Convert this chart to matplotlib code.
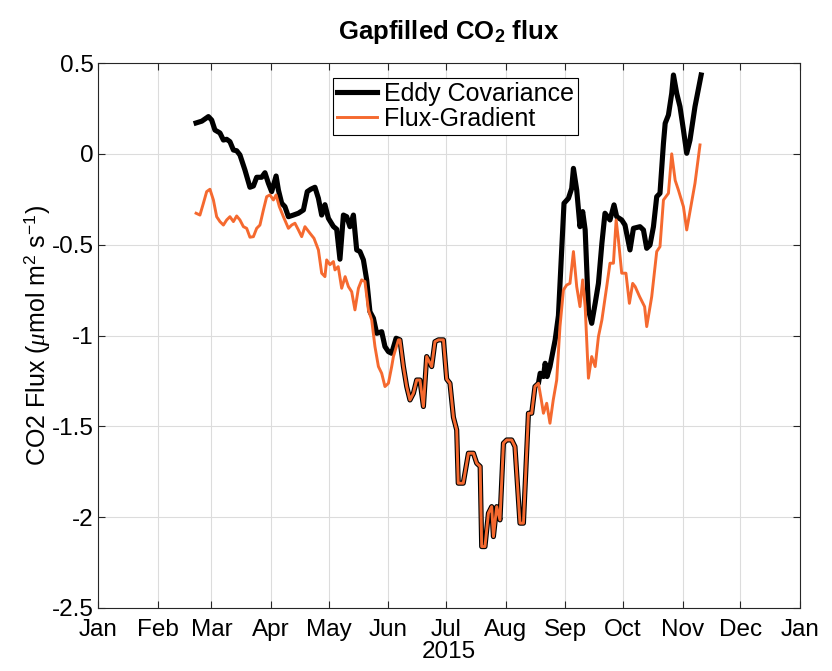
import numpy as np
import pandas as pd
import matplotlib
matplotlib.use("Agg")
import matplotlib.pyplot as plt
import matplotlib.dates as mdates

plt.rcParams['font.family'] = ['Liberation Sans', 'DejaVu Sans']
plt.rcParams['mathtext.fontset'] = 'custom'
plt.rcParams['mathtext.rm'] = 'Liberation Sans'
plt.rcParams['mathtext.it'] = 'Liberation Serif:italic'
plt.rcParams['mathtext.bf'] = 'Liberation Sans:bold'
plt.rcParams['axes.unicode_minus'] = False

# days since 1 Jan 2015, gapfilled flux (umol m-2 s-1)
ec_day = [51, 54, 57.4, 59.1, 60.8, 63.4, 65.2, 66.9, 68.6, 70.4, 72.1, 73.8, 76.4, 79.0, 80.8,
          82.5, 85.1, 86.8, 88.6, 90.3, 92.6, 93.8, 95.5, 97.2, 99.0, 101.6, 104.2, 106.8, 108.8,
          110.6, 112.8, 114.6, 116.3, 118.0, 119.8, 122.4, 124.1, 125.8, 127.6, 129.3, 131.0,
          132.8, 134.5, 136.2, 138.0, 139.7, 141.4, 143.2, 144.9, 147.5, 149.2, 151.0, 152.7,
          155.0, 157.0, 158.8, 160.5, 162.2, 164.0, 165.7, 167.4, 169.2, 170.9, 173.5, 175.2,
          177.0, 179.6, 181.3, 183.0, 184.8, 186.5, 187.3, 189.9, 192.6, 195.2, 196.9, 198.7,
          199.5, 201.2, 203.0, 204.7, 205.6, 207.3, 209.0, 210.8, 212.5, 215.1, 216.8, 219.4,
          221.2, 223.8, 225.5, 227.2, 229.0, 229.9, 231.6, 232.5, 233.5, 235.0, 237.7, 239.4,
          241.1, 242.3, 244.6, 246.3, 247.2, 248.9, 250.6, 252.0, 253.3, 255.0, 256.7, 258.5,
          260.2, 262.0, 263.6, 266.2, 268.3, 269.7, 272.3, 274.0, 276.6, 278.4, 281.8, 283.6,
          285.3, 287.0, 288.8, 290.5, 292.2, 294.0, 294.9, 296.6, 298.3, 299.2, 300.9, 302.6,
          304.4, 306.1, 307.8, 310.4, 313.6]
ec_flux = [0.17, 0.18, 0.205, 0.186, 0.131, 0.115, 0.076, 0.08, 0.067, 0.021, 0.017, -0.006,
           -0.089, -0.184, -0.177, -0.129, -0.129, -0.104, -0.162, -0.208, -0.122, -0.199, -0.272,
           -0.291, -0.346, -0.337, -0.327, -0.309, -0.208, -0.195, -0.184, -0.245, -0.337, -0.28,
           -0.355, -0.40, -0.415, -0.58, -0.337, -0.346, -0.401, -0.337, -0.529, -0.538, -0.584,
           -0.694, -0.869, -0.905, -0.988, -0.979, -1.061, -1.089, -1.098, -1.015, -1.024, -1.171,
           -1.281, -1.355, -1.318, -1.245, -1.245, -1.391, -1.116, -1.171, -1.034, -1.024, -1.024,
           -1.24, -1.263, -1.45, -1.52, -1.813, -1.813, -1.648, -1.648, -1.703, -1.721, -2.162,
           -2.162, -1.978, -1.942, -2.107, -1.942, -2.015, -1.593, -1.575, -1.575, -1.612, -2.033,
           -2.033, -1.428, -1.428, -1.281, -1.263, -1.208, -1.226, -1.153, -1.226, -1.171, -1.024,
           -0.89, -0.529, -0.272, -0.245, -0.19, -0.08, -0.199, -0.401, -0.318, -0.419, -0.859,
           -0.933, -0.823, -0.713, -0.492, -0.327, -0.364, -0.281, -0.346, -0.364, -0.392, -0.529,
           -0.41, -0.401, -0.419, -0.52, -0.502, -0.401, -0.236, -0.217, 0.058, 0.168, 0.214,
           0.333, 0.434, 0.333, 0.26, 0.131, 0.003, 0.076, 0.26, 0.434]

fg_day = [51, 53.0, 54.8, 56.5, 58.2, 60.0, 61.7, 63.4, 65.2, 66.9, 68.6, 70.4, 72.1, 73.8, 75.6,
          77.3, 79.0, 80.8, 82.5, 84.2, 86.0, 87.7, 89.4, 91.2, 92.6, 94.3, 96.4, 99.0, 100.7,
          102.4, 104.2, 105.9, 107.6, 110.2, 112.3, 114.6, 116.3, 118.0, 118.9, 120.6, 122.4,
          123.2, 124.9, 126.7, 128.5, 130.2, 131.9, 133.6, 135.4, 137.1, 138.8, 140.6, 142.3,
          144.0, 145.8, 147.5, 149.2, 151.0, 152.7, 153.6, 156.2,
          157.0, 158.8, 160.5, 162.2, 164.0, 165.7, 167.4, 169.2, 170.9, 173.5, 175.2,
          177.0, 179.6, 181.3, 183.0, 184.8, 186.5, 187.3, 189.9, 192.6, 195.2, 196.9, 198.7,
          199.5, 201.2, 203.0, 204.7, 205.6, 207.3, 209.0, 210.8, 212.5, 215.1, 216.8, 219.4,
          221.2, 223.8, 225.5, 227.2, 229.0, 230.5, 231.6, 233.3, 235.0, 236.7, 238.5, 240.2,
          242.0, 243.7, 245.4, 247.2, 248.9, 250.6, 252.0, 253.3, 255.0, 256.7, 258.5, 260.2,
          262.0, 264.5, 266.2, 268.0, 269.4, 270.6, 272.3, 274.5, 276.3, 278.0, 279.3, 281.6,
          284.2, 285.3, 287.9, 290.5, 292.2, 294.0, 296.6, 298.3, 300.1, 301.8, 304.4, 306.1,
          307.8, 310.4, 313.0]
fg_flux = [-0.327, -0.337, -0.272, -0.208, -0.195, -0.254, -0.346, -0.373, -0.392, -0.364, -0.346,
           -0.373, -0.342, -0.364, -0.401, -0.41, -0.459, -0.456, -0.41, -0.392, -0.309, -0.236,
           -0.226, -0.254, -0.226, -0.291, -0.346, -0.41, -0.392, -0.382, -0.419, -0.456, -0.401,
           -0.437, -0.465, -0.529, -0.657, -0.676, -0.584, -0.61, -0.593, -0.639, -0.621, -0.74,
           -0.676, -0.731, -0.759, -0.859, -0.74, -0.694, -0.703, -0.859, -0.914, -1.061, -1.171,
           -1.208, -1.281, -1.263, -1.171, -1.116, -1.024,
           -1.024, -1.171, -1.281, -1.355, -1.318, -1.245, -1.245, -1.391, -1.116, -1.171, -1.034,
           -1.024, -1.024, -1.24, -1.263, -1.45, -1.52, -1.813, -1.813, -1.648, -1.648, -1.703,
           -1.721, -2.162, -2.162, -1.978, -1.942, -2.107, -1.942, -2.015, -1.593, -1.575, -1.575,
           -1.612, -2.033, -2.033, -1.428, -1.428, -1.281, -1.263, -1.355, -1.428, -1.373, -1.483,
           -1.355, -1.245, -0.951, -0.749, -0.722, -0.713, -0.538, -0.731, -0.841, -0.694, -0.841,
           -1.235, -1.116, -1.171, -1.006, -0.914, -0.731, -0.602, -0.602, -0.364, -0.474, -0.657,
           -0.657, -0.823, -0.713, -0.731, -0.786, -0.841, -0.951, -0.786, -0.538, -0.511, -0.254,
           -0.217, 0.0, -0.146, -0.2, -0.291, -0.419, -0.318, -0.162, 0.049]

y_ticks = [0.5, 0, -0.5, -1, -1.5, -2, -2.5]

start = pd.Timestamp('2015-01-01')
ec_t = start + pd.to_timedelta(ec_day, unit='D')
fg_t = start + pd.to_timedelta(fg_day, unit='D')

fig = plt.figure(figsize=(8.32, 6.71), dpi=100)
ax = fig.add_axes([98 / 832, 63 / 671, 702 / 832, 545 / 671])

# black drawn a bit wider so it still shows where the two series coincide
ax.plot(ec_t, ec_flux, color='black', lw=3.7, label='Eddy Covariance', zorder=3)
ax.plot(fg_t, fg_flux, color='#F5692F', lw=2.1, label='Flux-Gradient', zorder=4)

ax.set_xlim(pd.Timestamp('2015-01-01'), pd.Timestamp('2016-01-01'))
ax.set_ylim(-2.5, 0.5)
ax.set_yticks(y_ticks)
ax.set_yticklabels([f'{v:g}' for v in y_ticks])
ax.xaxis.set_major_locator(mdates.MonthLocator())
ax.xaxis.set_major_formatter(mdates.DateFormatter('%b'))

ax.grid(True, color='#dcdcdc', lw=0.8)
ax.set_axisbelow(True)
ax.tick_params(direction='in', length=5, width=0.8, top=True, right=True,
               labelsize=17.5, colors='#262626', labelcolor='black')
ax.tick_params(axis='y', pad=3)
ax.tick_params(axis='x', pad=8)
for s in ax.spines.values():
    s.set_color('#262626')
    s.set_linewidth(0.8)

ax.set_xlabel('2015', fontsize=17.5, labelpad=0)
ax.set_ylabel(r'CO2 Flux ($\mu$mol m$^{\mathrm{2}}$ s$^{\mathrm{-1}}$)', fontsize=18, labelpad=0)
ax.set_title(r'Gapfilled CO$_{\mathbf{2}}$ flux', fontsize=18.5, fontweight='bold', pad=17)

leg = ax.legend(loc='upper left', bbox_to_anchor=(235 / 702, 1 - 15 / 545), fontsize=18,
                frameon=True, fancybox=False, framealpha=1, edgecolor='black',
                borderpad=0.15, labelspacing=0.05, handlelength=1.6, handletextpad=0.3,
                borderaxespad=0)
leg.get_frame().set_linewidth(0.8)

fig.savefig('out.png', dpi=100)
